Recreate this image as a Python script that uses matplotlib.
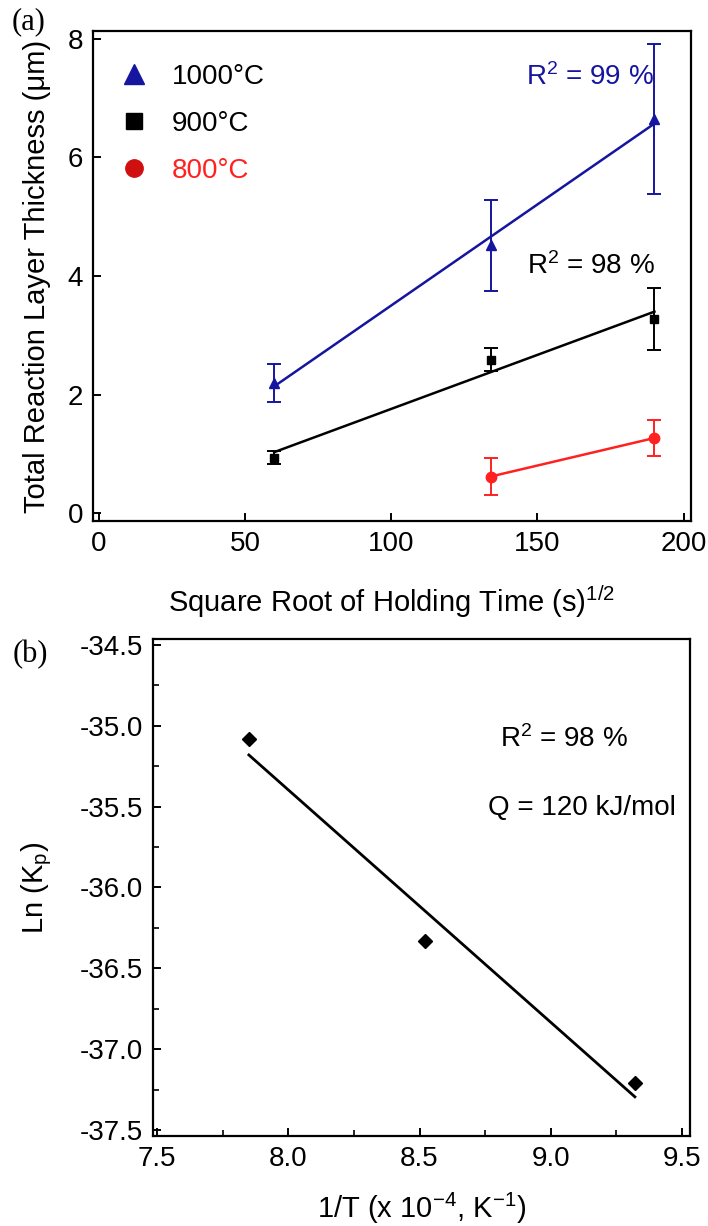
import numpy as np
import matplotlib
matplotlib.use("Agg")
import matplotlib.pyplot as plt
from matplotlib.lines import Line2D

plt.rcParams['font.family'] = ['Liberation Sans', 'DejaVu Sans']
plt.rcParams['mathtext.fontset'] = 'custom'
plt.rcParams['mathtext.rm'] = 'Liberation Sans'
plt.rcParams['mathtext.it'] = 'Liberation Sans'

# (a) reaction layer thickness vs sqrt(t)
t_1000 = [60, 134, 190]
d_1000 = [2.20, 4.52, 6.65]
e_1000 = [0.32, 0.77, 1.26]

t_900 = [60, 134, 190]
d_900 = [0.94, 2.59, 3.28]
e_900 = [0.11, 0.19, 0.52]

t_800 = [134, 190]
d_800 = [0.62, 1.27]
e_800 = [0.31, 0.30]

# (b) Arrhenius plot
inv_T = [7.85, 8.52, 9.32]
ln_kp = [-35.08, -36.33, -37.21]

blue = "#1515a0"
red = "#ff2020"
red_mk = "#d01010"

fig = plt.figure(figsize=(7.08, 12.26), dpi=100)
FS = 20
LFS = 21

def style(ax):
    for s in ax.spines.values():
        s.set_linewidth(1.6)
    ax.tick_params(which="major", direction="in", length=6, width=1.4,
                   labelsize=FS, top=False, right=False, pad=7)
    ax.tick_params(which="minor", direction="in", length=4, width=1.2,
                   top=False, right=False)

# ---- panel (a)
ax1 = fig.add_axes([0.1314, 0.575, 0.8446, 0.3997])
style(ax1)

def series(ax, x, y, e, color, mcolor, marker, ms):
    ax.errorbar(x, y, yerr=e, fmt="none", ecolor=color, elinewidth=1.4,
                capsize=5, capthick=1.4, zorder=2)
    ax.plot(x, y, linestyle="none", marker=marker, ms=ms, color=mcolor, zorder=3)
    k, b = np.polyfit(x, y, 1)
    xs = np.array([x[0], x[-1]])
    ax.plot(xs, k * xs + b, color=color, lw=1.8, zorder=2)

series(ax1, t_1000, d_1000, e_1000, blue, blue, "^", 7)
series(ax1, t_900, d_900, e_900, "black", "black", "s", 5.5)
series(ax1, t_800, d_800, e_800, red, red, "o", 7.5)

ax1.set_xlim(-1.9, 202.5)
ax1.set_ylim(-0.13, 8.13)
ax1.set_xticks([0, 50, 100, 150, 200])
ax1.set_yticks([0, 2, 4, 6, 8])
ax1.set_xlabel("Square Root of Holding Time (s)$^{1/2}$", fontsize=LFS, labelpad=19)
ax1.set_ylabel("Total Reaction Layer Thickness (\u03bcm)", fontsize=LFS, labelpad=12)

handles = [
    Line2D([], [], ls="none", marker="^", ms=14, color=blue),
    Line2D([], [], ls="none", marker="s", ms=12, color="black"),
    Line2D([], [], ls="none", marker="o", ms=12.5, color=red_mk),
]
leg = ax1.legend(handles, ["1000\u00b0C", "900\u00b0C", "800\u00b0C"],
                 loc="upper left", bbox_to_anchor=(0.015, 0.955), frameon=False,
                 fontsize=FS, handletextpad=0.6, labelspacing=0.75,
                 handlelength=1.5, borderaxespad=0)
leg.get_texts()[2].set_color(red)

ax1.text(146, 7.36, "R$^2$ = 99 %", color=blue, fontsize=FS, va="center")
ax1.text(146.5, 4.17, "R$^2$ = 98 %", color="black", fontsize=FS, va="center")

fig.text(0.016, 0.982, "(a)", fontsize=22, family="Liberation Serif", va="center")

# ---- panel (b)
ax2 = fig.add_axes([0.2154, 0.0734, 0.7592, 0.4054])
style(ax2)
ax2.plot(inv_T, ln_kp, linestyle="none", marker="D", ms=7, color="black", zorder=3)
k, b = np.polyfit(inv_T, ln_kp, 1)
xs = np.array([inv_T[0], inv_T[-1]])
ax2.plot(xs, k * xs + b, color="black", lw=2.0)

ax2.set_xlim(7.483, 9.53)
ax2.set_ylim(-37.537, -34.464)
ax2.set_xticks([7.5, 8.0, 8.5, 9.0, 9.5])
ax2.set_xticks(np.arange(7.75, 9.5, 0.5), minor=True)
ax2.set_yticks([-37.5, -37.0, -36.5, -36.0, -35.5, -35.0, -34.5])
ax2.set_yticks(np.arange(-37.25, -34.5, 0.5), minor=True)
ax2.set_yticklabels(["-37.5", "-37.0", "-36.5", "-36.0", "-35.5", "-35.0", "-34.5"])
ax2.set_xticklabels(["7.5", "8.0", "8.5", "9.0", "9.5"])
ax2.set_xlabel("1/T (x 10$^{-4}$, K$^{-1}$)", fontsize=LFS, labelpad=14)
ax2.set_ylabel("Ln (K$_\\mathrm{p}$)", fontsize=LFS, labelpad=18)

ax2.text(9.05, -35.08, "R$^2$ = 98 %", fontsize=FS, ha="center", va="center")
ax2.text(9.12, -35.51, "Q = 120 kJ/mol", fontsize=FS, ha="center", va="center")

fig.text(0.018, 0.466, "(b)", fontsize=22, family="Liberation Serif", va="center")

fig.savefig("out.png", dpi=100)
